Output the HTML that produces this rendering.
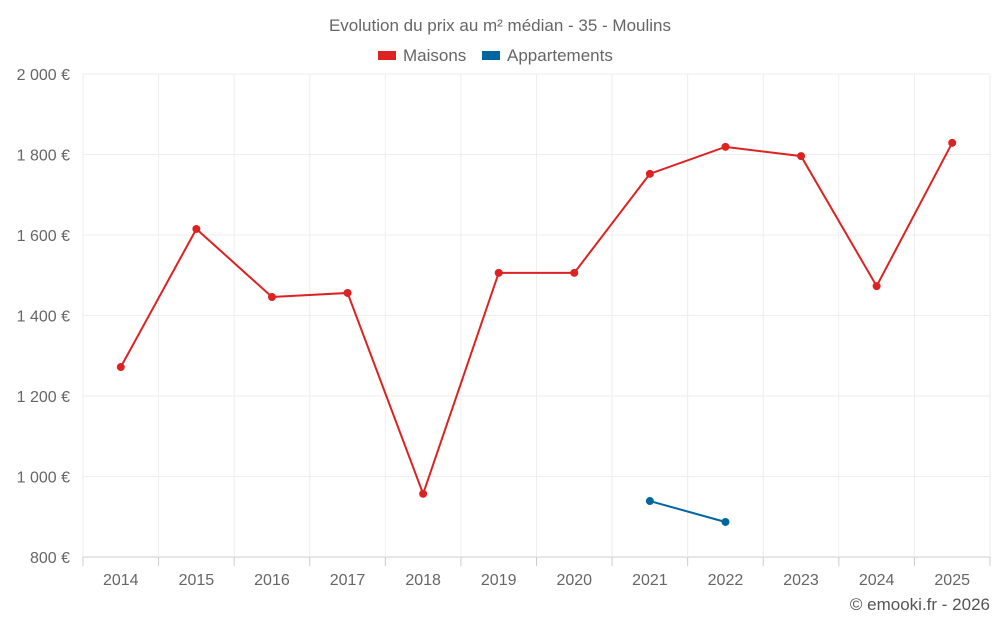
<!DOCTYPE html>
<html><head><meta charset="utf-8"><style>
body{margin:0;background:#fff;font-family:"Liberation Sans",sans-serif}
</style></head><body>
<svg id="c" width="1000" height="625" xmlns="http://www.w3.org/2000/svg" font-family="Liberation Sans, sans-serif">
<text x="500" y="31" text-anchor="middle" font-size="17" fill="#666">Evolution du prix au m² médian - 35 - Moulins</text>
<g>
<g><rect x="378" y="51" width="18" height="9" fill="#dd2222"/><text x="403" y="61" font-size="17" fill="#666">Maisons</text></g>
<g><rect x="482" y="51" width="18" height="9" fill="#0066a0"/><text x="507" y="61" font-size="17" fill="#666">Appartements</text></g>
</g>
<g id="grid"></g><g id="axes"></g><g id="series"></g>
<text x="990" y="610" text-anchor="end" font-size="17" fill="#555">© emooki.fr - 2026</text>
</svg>
<script>
const years=[2014,2015,2016,2017,2018,2019,2020,2021,2022,2023,2024,2025];
const maisons=[1272,1615,1446,1456,957,1506,1506,1752,1819,1796,1473,1829];
const appartements=[null,null,null,null,null,null,null,939,887,null,null,null];
const yTicks=[800,1000,1200,1400,1600,1800,2000];
const yTickLabels=["800 €","1 000 €","1 200 €","1 400 €","1 600 €","1 800 €","2 000 €"];
const L=83,R=990,T=74,B=557,yMin=800,yMax=2000;
const bw=(R-L)/years.length;
function x(i){return L+bw*(i+0.5);}
function y(v){return B-(v-yMin)/(yMax-yMin)*(B-T);}
const NS="http://www.w3.org/2000/svg";
function mk(p,tag,at){const e=document.createElementNS(NS,tag);for(const k in at)e.setAttribute(k,at[k]);p.appendChild(e);return e;}
const g=document.getElementById('grid'),a=document.getElementById('axes'),s=document.getElementById('series');
yTicks.forEach((t,i)=>{
 const l=mk(g,'line',{x1:L,x2:R,y1:y(t),y2:y(t),stroke:i==0?'#ccc':'#eee','stroke-width':1});
 
 
 const tx=mk(a,'text',{x:70,y:y(t)+6,'text-anchor':'end','font-size':16,fill:'#666'});
 tx.textContent=yTickLabels[i];
 
 
});
for(let i=0;i<=years.length;i++){
 const xx=L+bw*i;
 const l=mk(g,'line',{x1:xx,x2:xx,y1:T,y2:B,stroke:'#eee'});
 
 
 const tk=mk(a,'line',{x1:xx,x2:xx,y1:B,y2:B+9,stroke:'#ccc'});
 
 
}
years.forEach((yr,i)=>{
 const tx=mk(a,'text',{x:x(i),y:585,'text-anchor':'middle','font-size':16,fill:'#666'});
 tx.textContent=yr;
 
 
});
function draw(vals,color,name){
 let d='';let started=false;
 vals.forEach((v,i)=>{if(v==null){started=false;return;}d+=(started?'L':'M')+x(i)+','+y(v);started=true;});
 const p=mk(s,'path',{d:d,fill:'none',stroke:color,'stroke-width':2});
 
 
 vals.forEach((v,i)=>{if(v==null)return;
  const c=mk(s,'circle',{cx:x(i),cy:y(v),r:4,fill:color});
  
  
 });
}
draw(maisons,'#dd2222','maisons');
draw(appartements,'#0066a0','appartements');
</script>
</body></html>
